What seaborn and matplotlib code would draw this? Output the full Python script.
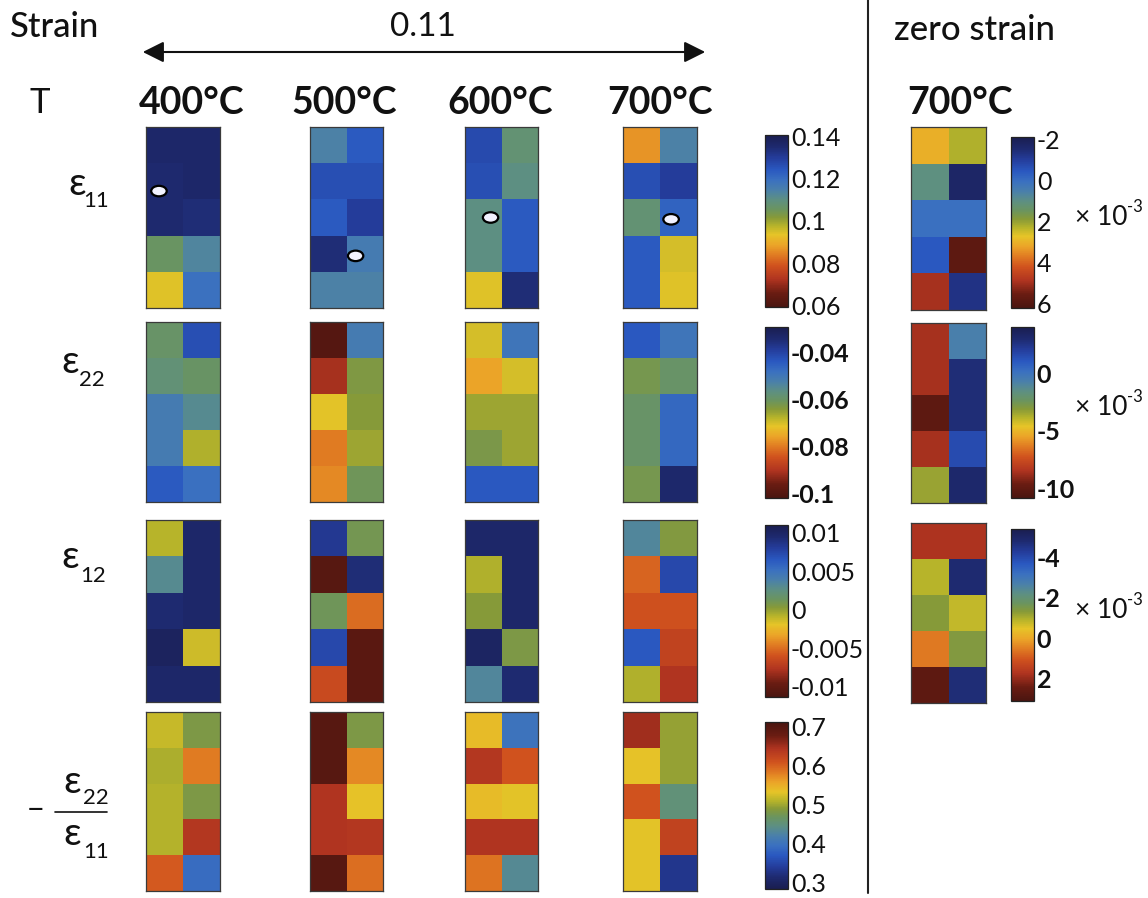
import numpy as np
import matplotlib
matplotlib.use("Agg")
import matplotlib.pyplot as plt
import seaborn as sns
from matplotlib.colors import LinearSegmentedColormap
from matplotlib.patches import Ellipse

sns.set_style("white")
FONT = ['Lato', 'DejaVu Sans']
plt.rcParams['font.family'] = FONT

# ---------------- data ----------------
temps = ["400\u00b0C", "500\u00b0C", "600\u00b0C", "700\u00b0C"]
zero_temp = "700\u00b0C"

# eps11 (strain 0.11), 5 rows x 2 columns per temperature
e11_400 = [[0.136, 0.136], [0.135, 0.136], [0.135, 0.134], [0.106, 0.113], [0.094, 0.119]]
e11_500 = [[0.114, 0.124], [0.126, 0.126], [0.124, 0.130], [0.134, 0.116], [0.114, 0.114]]
e11_600 = [[0.127, 0.108], [0.126, 0.110], [0.110, 0.124], [0.110, 0.124], [0.094, 0.134]]
e11_700 = [[0.087, 0.114], [0.126, 0.130], [0.108, 0.122], [0.124, 0.095], [0.124, 0.094]]

# eps22
e22_400 = [[-0.0597, -0.0421], [-0.058, -0.060], [-0.051, -0.055], [-0.051, -0.067], [-0.044, -0.048]]
e22_500 = [[-0.100, -0.051], [-0.091, -0.063], [-0.071, -0.064], [-0.080, -0.0655], [-0.0786, -0.061]]
e22_600 = [[-0.070, -0.0494], [-0.0757, -0.070], [-0.0655, -0.0655], [-0.0626, -0.0655], [-0.0436, -0.0436]]
e22_700 = [[-0.0436, -0.0494], [-0.062, -0.0597], [-0.0597, -0.0465], [-0.0597, -0.0465], [-0.062, -0.0334]]

# eps12
e12_400 = [[-0.0008, 0.0097], [0.0030, 0.0097], [0.0094, 0.0097], [0.0103, -0.0013], [0.0097, 0.0097]]
e12_500 = [[0.0083, 0.0010], [-0.0106, 0.0092], [0.0012, -0.0051], [0.0074, -0.0104], [-0.0064, -0.0104]]
e12_600 = [[0.0097, 0.0097], [-0.0006, 0.0097], [0.0003, 0.0097], [0.0101, 0.0007], [0.0034, 0.0094]]
e12_700 = [[0.0034, 0.0005], [-0.0053, 0.0074], [-0.0060, -0.0060], [0.0065, -0.0068], [-0.0006, -0.0077]]

# -eps22/eps11
ratio_400 = [[0.518, 0.483], [0.505, 0.583], [0.509, 0.483], [0.509, 0.639], [0.604, 0.392]]
ratio_500 = [[0.699, 0.483], [0.699, 0.574], [0.643, 0.535], [0.643, 0.639], [0.699, 0.591]]
ratio_600 = [[0.540, 0.401], [0.639, 0.609], [0.540, 0.531], [0.643, 0.643], [0.587, 0.436]]
ratio_700 = [[0.652, 0.496], [0.535, 0.496], [0.609, 0.453], [0.531, 0.626], [0.531, 0.332]]

# zero strain, 700C (x 1e-3)
z_e11 = [[3.05, 2.22], [1.05, -1.7], [0.06, 0.06], [-0.44, 5.8], [4.95, -1.27]]
z_e22 = [[-8.58, -0.74], [-8.58, 2.8], [-10.06, 2.8], [-8.58, 1.48], [-3.4, 3.1]]
z_e12 = [[1.74, 1.74], [-0.9, -4.8], [-1.32, -0.81], [0.55, -1.4], [2.67, -4.72]]

# colour ranges / ticks
e11_range = (0.0595, 0.1405); e11_ticks = [0.06, 0.08, 0.1, 0.12, 0.14]
e11_ticklabels = ["0.06", "0.08", "0.1", "0.12", "0.14"]
e22_range = (-0.102, -0.029); e22_ticks = [-0.1, -0.08, -0.06, -0.04]
e22_ticklabels = ["-0.1", "-0.08", "-0.06", "-0.04"]
e12_range = (-0.0113, 0.011); e12_ticks = [-0.01, -0.005, 0, 0.005, 0.01]
e12_ticklabels = ["-0.01", "-0.005", "0", "0.005", "0.01"]
ratio_range = (0.284, 0.7125); ratio_ticks = [0.3, 0.4, 0.5, 0.6, 0.7]
ratio_ticklabels = ["0.3", "0.4", "0.5", "0.6", "0.7"]
z_e11_range = (-2.1, 6.2); z_e11_ticks = [-2, 0, 2, 4, 6]
z_e11_ticklabels = ["-2", "0", "2", "4", "6"]
z_e22_range = (-10.8, 4.0); z_e22_ticks = [-10, -5, 0]
z_e22_ticklabels = ["-10", "-5", "0"]
z_e12_range = (-5.4, 3.1); z_e12_ticks = [-4, -2, 0, 2]
z_e12_ticklabels = ["-4", "-2", "0", "2"]

# marker (white ellipse) positions in cell units for eps11 panels
marker_panel = [0, 1, 2, 3]
marker_x = [0.35, 1.25, 0.70, 1.30]
marker_y = [1.77, 3.56, 2.50, 2.55]

# ---------------- colormap ----------------
nodes = [
    (0.00, "#4a1510"), (0.08, "#6a1c12"), (0.16, "#b03420"), (0.24, "#d0521e"),
    (0.30, "#e07a22"), (0.36, "#eba428"), (0.42, "#e6c428"), (0.47, "#b8b42a"),
    (0.52, "#879a38"), (0.57, "#6a9460"), (0.62, "#5e9080"), (0.68, "#4a80aa"),
    (0.74, "#3a70c0"), (0.80, "#2a58c0"), (0.87, "#243c9a"), (0.93, "#1e2a70"),
    (1.00, "#1a1e50"),
]
cmap = LinearSegmentedColormap.from_list("strain", nodes, N=256)
cmap_r = cmap.reversed()

# ---------------- layout ----------------
W, H = 1148, 898
fig = plt.figure(figsize=(W / 100, H / 100), dpi=100)


def box(x0, y0, x1, y1):
    return [x0 / W, 1 - y1 / H, (x1 - x0) / W, (y1 - y0) / H]


cols_x = [(146, 220), (310, 383), (465, 538), (623, 697)]
rows_y = [(127, 308), (322, 502), (520, 702), (712, 891)]
zero_x = (911, 986)
zero_rows_y = [(127, 310), (323, 503), (523, 703)]
cb_x = (765, 788)
cb_y = [(135, 307), (327, 498), (525, 697), (722, 889)]
zcb_x = (1011, 1034)
zcb_y = [(137, 308), (327, 498), (529, 701)]

main_rows = [
    ([e11_400, e11_500, e11_600, e11_700], e11_range, cmap, e11_ticks, e11_ticklabels, 'normal'),
    ([e22_400, e22_500, e22_600, e22_700], e22_range, cmap, e22_ticks, e22_ticklabels, 'bold'),
    ([e12_400, e12_500, e12_600, e12_700], e12_range, cmap, e12_ticks, e12_ticklabels, 'normal'),
    ([ratio_400, ratio_500, ratio_600, ratio_700], ratio_range, cmap_r, ratio_ticks, ratio_ticklabels, 'normal'),
]


def style_heat(ax):
    ax.set_xticks([]); ax.set_yticks([])
    for s in ax.spines.values():
        s.set_visible(True)
        s.set_linewidth(0.9)
        s.set_edgecolor("#3a3a3a")


def style_cbar(ax, ticks, labels, weight, invert=False):
    cb = ax.collections[0].colorbar
    cb.set_ticks(ticks)
    cb.set_ticklabels(labels)
    cb.outline.set_edgecolor("#222222")
    cb.outline.set_linewidth(0.9)
    cb.ax.tick_params(labelsize=18, length=3, width=0.7, direction='in',
                      left=True, right=True, pad=2, colors="#111111")
    for t in cb.ax.get_yticklabels():
        t.set_fontweight(weight)
        t.set_family(FONT)
    if invert:
        cb.ax.invert_yaxis()


panel_axes = {}
for r, (datas, (vmin, vmax), cm, ticks, labels, weight) in enumerate(main_rows):
    cax = fig.add_axes(box(cb_x[0], cb_y[r][0], cb_x[1], cb_y[r][1]))
    for c, d in enumerate(datas):
        ax = fig.add_axes(box(cols_x[c][0], rows_y[r][0], cols_x[c][1], rows_y[r][1]))
        sns.heatmap(np.array(d), ax=ax, cmap=cm, vmin=vmin, vmax=vmax,
                    cbar=(c == 0), cbar_ax=cax if c == 0 else None,
                    xticklabels=False, yticklabels=False)
        style_heat(ax)
        panel_axes[(r, c)] = ax
        if c == 0:
            style_cbar(ax, ticks, labels, weight)

# markers on eps11
for p, mx, my in zip(marker_panel, marker_x, marker_y):
    ax = panel_axes[(0, p)]
    ax.add_patch(Ellipse((mx, my), 0.42, 0.29, facecolor="#f2f2ff",
                         edgecolor="black", linewidth=1.6, zorder=5))

zero_rows = [
    (z_e11, z_e11_range, cmap_r, z_e11_ticks, z_e11_ticklabels, 'normal', True),
    (z_e22, z_e22_range, cmap, z_e22_ticks, z_e22_ticklabels, 'bold', False),
    (z_e12, z_e12_range, cmap_r, z_e12_ticks, z_e12_ticklabels, 'bold', True),
]
for r, (d, (vmin, vmax), cm, ticks, labels, weight, inv) in enumerate(zero_rows):
    cax = fig.add_axes(box(zcb_x[0], zcb_y[r][0], zcb_x[1], zcb_y[r][1]))
    ax = fig.add_axes(box(zero_x[0], zero_rows_y[r][0], zero_x[1], zero_rows_y[r][1]))
    sns.heatmap(np.array(d), ax=ax, cmap=cm, vmin=vmin, vmax=vmax,
                cbar=True, cbar_ax=cax, xticklabels=False, yticklabels=False)
    style_heat(ax)
    style_cbar(ax, ticks, labels, weight, invert=inv)
    ymid = (zcb_y[r][0] + zcb_y[r][1]) / 2 - 5
    fig.text(1075 / W, 1 - ymid / H, "\u00d7 10", fontsize=19, ha='left', va='center', color="#111")
    fig.text(1127 / W, 1 - (ymid - 10) / H, "-3", fontsize=12, ha='left', va='center', color="#111")

# ---------------- text ----------------
def ftxt(x, y, s, **kw):
    kw.setdefault('color', '#111111')
    fig.text(x / W, 1 - y / H, s, **kw)


ftxt(10, 27, "Strain", fontsize=25, ha='left', va='center', fontweight='medium')
ftxt(423, 27, "0.11", fontsize=24, ha='center', va='center')
ftxt(40, 103, "T", fontsize=25, ha='center', va='center')
for x, t in zip([192, 344, 500, 660], temps):
    ftxt(x, 103, t, fontsize=27, ha='center', va='center', fontweight='bold')
ftxt(974, 30, "zero strain", fontsize=25, ha='center', va='center', fontweight='medium')
ftxt(960, 103, zero_temp, fontsize=27, ha='center', va='center', fontweight='bold')

# arrow
fig.add_artist(matplotlib.patches.FancyArrowPatch(
    (140 / W, 1 - 52 / H), (708 / W, 1 - 52 / H), transform=fig.transFigure,
    arrowstyle='<|-|>', mutation_scale=32, linewidth=1.5, color='#111111'))

# vertical separator
fig.add_artist(matplotlib.lines.Line2D([868 / W, 868 / W], [1 - 0 / H, 1 - 893 / H],
                                       transform=fig.transFigure, color='#222222', linewidth=1.5))

# row labels
ftxt(77, 184, "\u03b5", fontsize=28, ha='center', va='center', family=FONT)
ftxt(96, 201, "11", fontsize=16, ha='center', va='center')
ftxt(70, 362, "\u03b5", fontsize=28, ha='center', va='center', family=FONT)
ftxt(92, 380, "22", fontsize=16, ha='center', va='center')
ftxt(70, 557, "\u03b5", fontsize=28, ha='center', va='center', family=FONT)
ftxt(93, 576, "12", fontsize=16, ha='center', va='center')
ftxt(36, 810, "\u2212", fontsize=22, ha='center', va='center', family=FONT)
ftxt(72, 782, "\u03b5", fontsize=28, ha='center', va='center', family=FONT)
ftxt(96, 798, "22", fontsize=16, ha='center', va='center')
fig.add_artist(matplotlib.lines.Line2D([55 / W, 107 / W], [1 - 812 / H, 1 - 812 / H],
                                       transform=fig.transFigure, color='#111111', linewidth=1.2))
ftxt(72, 834, "\u03b5", fontsize=28, ha='center', va='center', family=FONT)
ftxt(96, 852, "11", fontsize=16, ha='center', va='center')

fig.savefig("out.png", dpi=100)
